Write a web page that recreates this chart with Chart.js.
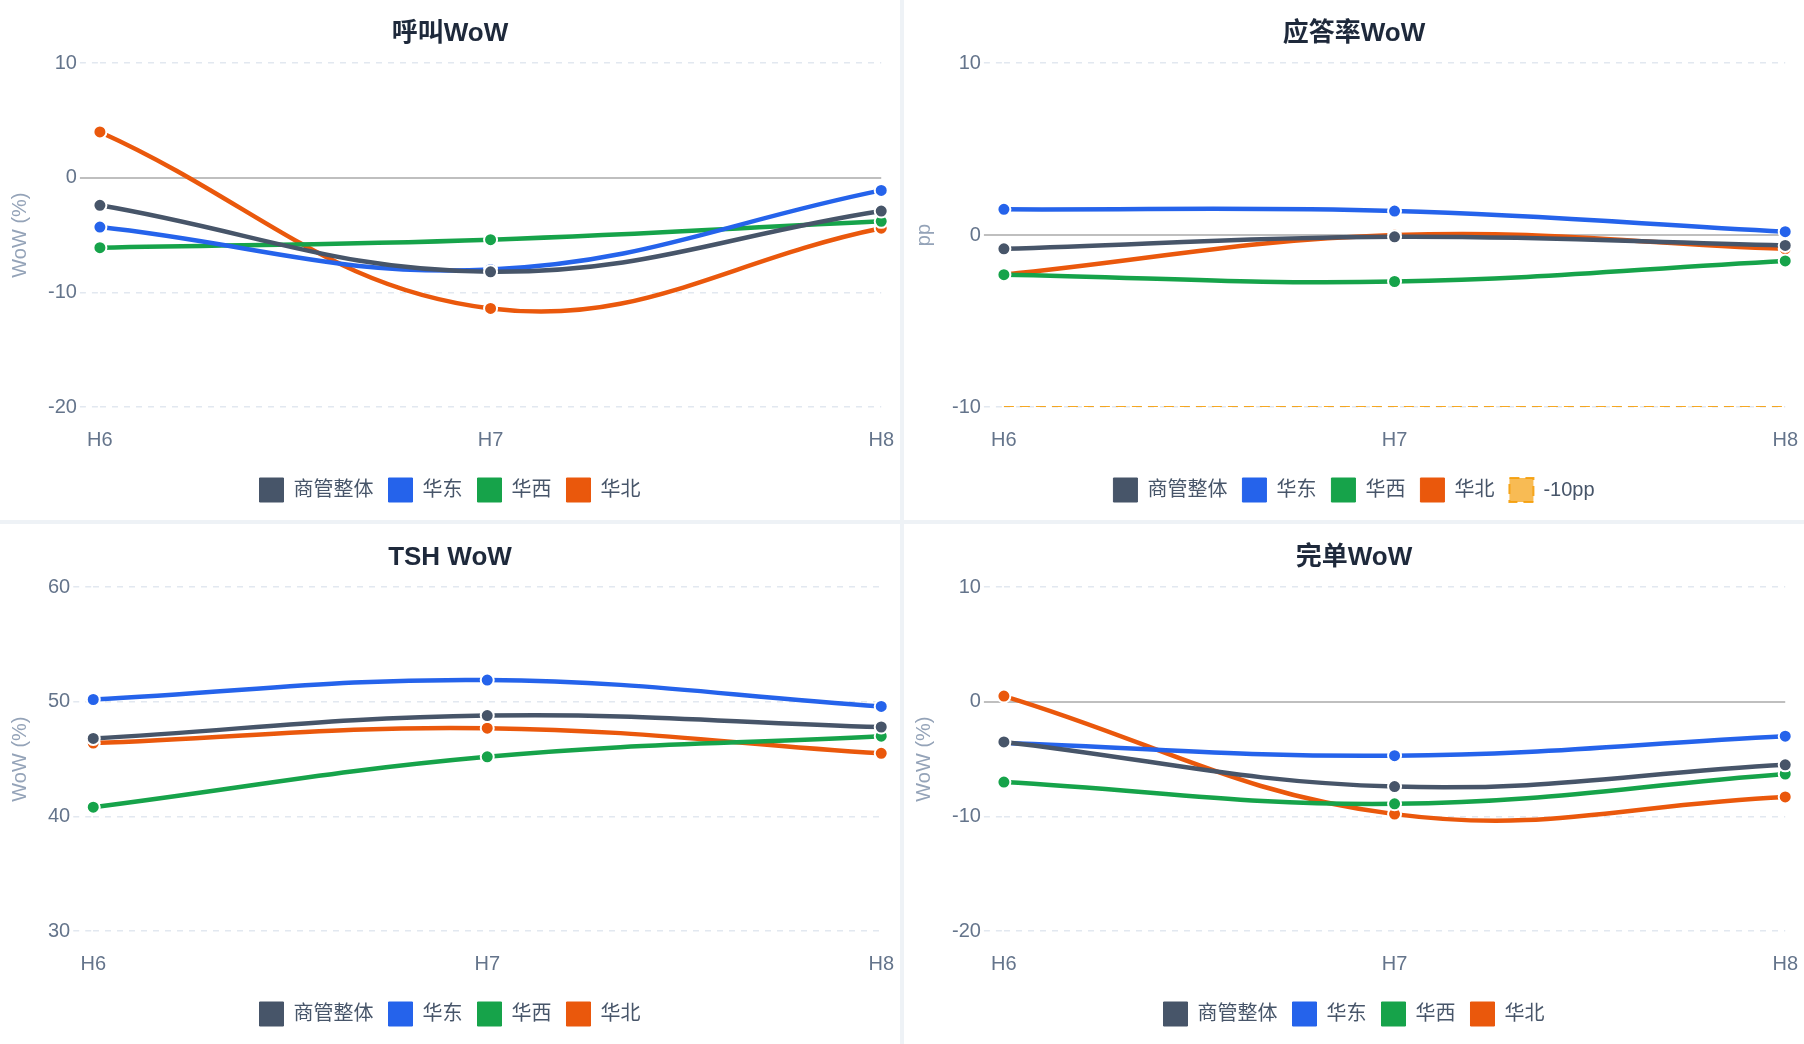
<!DOCTYPE html>
<html lang="zh">
<head>
<meta charset="utf-8">
<title>WoW</title>
<script src="https://cdn.jsdelivr.net/npm/chart.js@4.4.1/dist/chart.umd.min.js"></script>
<style>
  html, body { margin: 0; padding: 0; background: #eef2f6; }
  .grid {
    display: grid;
    grid-template-columns: 900px 900px;
    grid-template-rows: 520px 520px;
    gap: 4px;
    width: 1804px;
    height: 1044px;
  }
  .panel { background: #fff; position: relative; }
</style>
</head>
<body>
<div class="grid">
  <div class="panel"><canvas id="calls"></canvas></div>
  <div class="panel"><canvas id="answer"></canvas></div>
  <div class="panel"><canvas id="tsh"></canvas></div>
  <div class="panel"><canvas id="orders"></canvas></div>
</div>
<script>
const hours = ["H6", "H7", "H8"];
const regions = ["商管整体", "华东", "华西", "华北"];
const colors = ["#475569", "#2563eb", "#16a34a", "#ea580c"];

// 呼叫WoW (%)
const callsTotal = [-2.4, -8.2, -2.9];
const callsEast = [-4.3, -8.0, -1.1];
const callsWest = [-6.1, -5.4, -3.8];
const callsNorth = [4.0, -11.4, -4.4];

// 应答率WoW (pp)
const answerTotal = [-0.8, -0.1, -0.6];
const answerEast = [1.5, 1.4, 0.2];
const answerWest = [-2.3, -2.7, -1.5];
const answerNorth = [-2.3, 0.0, -0.8];
const answerFloor = [-10, -10, -10];

// TSH WoW (%)
const tshTotal = [46.8, 48.8, 47.8];
const tshEast = [50.2, 51.9, 49.6];
const tshWest = [40.8, 45.2, 47.0];
const tshNorth = [46.4, 47.7, 45.5];

// 完单WoW (%)
const orderTotal = [-3.5, -7.4, -5.5];
const orderEast = [-3.6, -4.7, -3.0];
const orderWest = [-7.0, -8.9, -6.3];
const orderNorth = [0.5, -9.8, -8.3];

Chart.defaults.font.family = "'Liberation Sans', 'Noto Sans CJK SC', sans-serif";
Chart.defaults.animation = false;

const isZero = (ctx) => ctx.tick && ctx.tick.value === 0;
const gridDash = (ctx) => (isZero(ctx) ? [] : [6, 6]);

function lineSets(series) {
    return series.map((values, i) => ({
        label: regions[i],
        data: values,
        borderColor: colors[i],
        backgroundColor: colors[i],
        borderWidth: 4.5,
        tension: 0.4,
        pointRadius: 6.5,
        pointHoverRadius: 7,
        pointBorderColor: "#fff",
        pointBorderWidth: 2,
        fill: false,
    }));
}

function makeChart(id, title, yTitle, min, max, datasets) {
    const ctx = document.getElementById(id).getContext("2d");
    return new Chart(ctx, {
        type: "line",
        data: { labels: hours, datasets },
        options: {
            responsive: true,
            maintainAspectRatio: false,
            layout: { padding: { top: 8, right: 4, bottom: 8, left: 4 } },
            plugins: {
                title: {
                    display: true,
                    text: title,
                    color: "#1e293b",
                    font: { size: 26, weight: "bold" },
                    padding: { top: 10, bottom: 14 },
                },
                legend: {
                    position: "bottom",
                    labels: {
                        boxWidth: 24,
                        boxHeight: 24,
                        padding: 15,
                        color: "#475569",
                        font: { size: 20 },
                        // thin box outline, keep the dashed one visible
                        generateLabels: (chart) =>
                            Chart.defaults.plugins.legend.labels.generateLabels(chart).map((item) => ({
                                ...item,
                                lineWidth: item.lineDash && item.lineDash.length ? 2 : 1,
                            })),
                    },
                },
                tooltip: { enabled: false },
            },
            scales: {
                x: {
                    grid: { display: false, drawTicks: true, tickLength: 15 },
                    border: { display: false },
                    ticks: { color: "#64748b", font: { size: 20 }, padding: 6 },
                    afterFit: (axis) => { axis.height += 5; },
                },
                y: {
                    min,
                    max,
                    ticks: { stepSize: 10, color: "#64748b", font: { size: 20 }, padding: 3 },
                    grid: {
                        color: (c) => (isZero(c) ? "#bfbfbf" : "#e2e8f0"),
                        lineWidth: (c) => (isZero(c) ? 2 : 1.5),
                        tickLength: 20,
                        tickBorderDash: gridDash,
                    },
                    border: { display: false, dash: gridDash },
                    title: {
                        display: true,
                        text: yTitle,
                        color: "#94a3b8",
                        font: { size: 20 },
                        padding: { top: 4, bottom: 13 },
                    },
                },
            },
        },
    });
}

makeChart("calls", "呼叫WoW", "WoW (%)", -20, 10,
    lineSets([callsTotal, callsEast, callsWest, callsNorth]));

makeChart("answer", "应答率WoW", "pp", -10, 10,
    lineSets([answerTotal, answerEast, answerWest, answerNorth]).concat([{
        label: "-10pp",
        data: answerFloor,
        borderColor: "rgba(245, 158, 11, 0.9)",
        backgroundColor: "rgba(245, 158, 11, 0.7)",
        borderWidth: 2,
        borderDash: [10, 6],
        pointRadius: 0,
        fill: false,
    }]));

makeChart("tsh", "TSH WoW", "WoW (%)", 30, 60,
    lineSets([tshTotal, tshEast, tshWest, tshNorth]));

makeChart("orders", "完单WoW", "WoW (%)", -20, 10,
    lineSets([orderTotal, orderEast, orderWest, orderNorth]));
</script>
</body>
</html>
